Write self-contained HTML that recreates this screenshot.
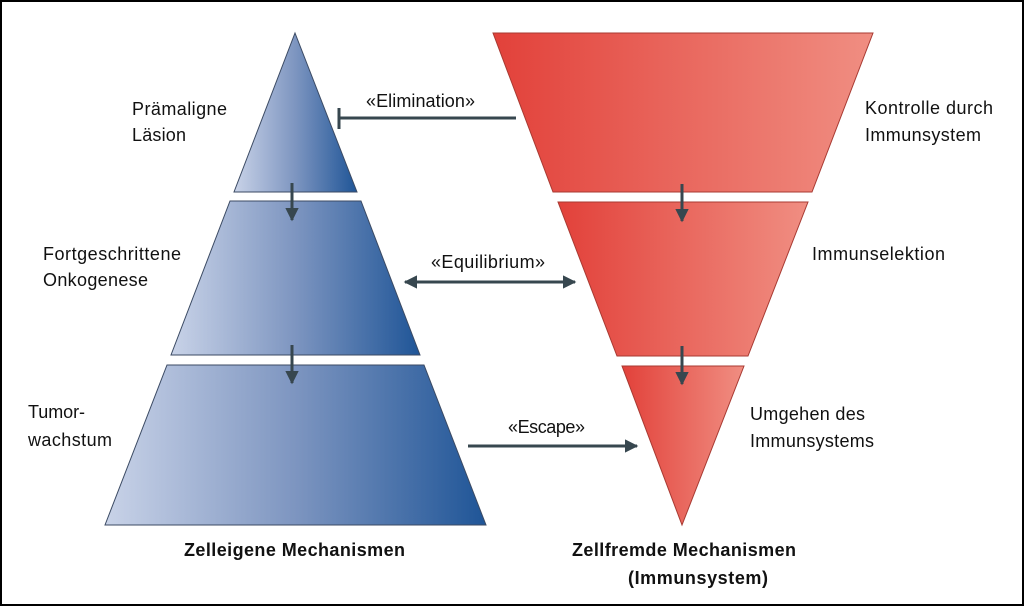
<!DOCTYPE html>
<html><head><meta charset="utf-8"><style>
html,body{margin:0;padding:0;background:#fff}
svg{display:block}
text{font-family:"Liberation Sans Narrow","Liberation Sans",sans-serif;fill:#111}
.r{font-size:18px}
.b{font-size:18px;font-weight:bold}
</style></head><body>
<svg width="1024" height="606" viewBox="0 0 1024 606" xmlns="http://www.w3.org/2000/svg">
<defs>
<linearGradient id="bl" x1="0" x2="1" y1="0" y2="0"><stop offset="0" stop-color="#c9d3e8"/><stop offset="0.5" stop-color="#7d95c0"/><stop offset="1" stop-color="#1f5597"/></linearGradient>
<linearGradient id="rd" x1="0" x2="1" y1="0" y2="0"><stop offset="0" stop-color="#e2413a"/><stop offset="1" stop-color="#f08e82"/></linearGradient>
<marker id="ah" viewBox="0 0 10 10" refX="9" refY="5" markerWidth="4.5" markerHeight="4.5" orient="auto-start-reverse"><path d="M0,0 L10,5 L0,10 z" fill="#37474f"/></marker>
</defs>
<rect x="1" y="1" width="1022" height="604" fill="#fff" stroke="#000" stroke-width="2"/>
<g stroke="#3b4a63" stroke-width="1">
<polygon points="295,33 357,192 234,192" fill="url(#bl)"/>
<polygon points="230,201 361,201 420,355 171,355" fill="url(#bl)"/>
<polygon points="167,365 424,365 486,525 105,525" fill="url(#bl)"/>
</g>
<g stroke="#a83a32" stroke-width="1">
<polygon points="493,33 873,33 812,192 553,192" fill="url(#rd)"/>
<polygon points="558,202 808,202 748,356 617,356" fill="url(#rd)"/>
<polygon points="622,366 744,366 682,525" fill="url(#rd)"/>
</g>
<g stroke="#37474f" stroke-width="3" fill="none">
<line x1="339" y1="118" x2="516" y2="118"/>
<line x1="339" y1="108" x2="339" y2="129"/>
<line x1="405" y1="282" x2="575" y2="282" marker-start="url(#ah)" marker-end="url(#ah)"/>
<line x1="468" y1="446" x2="637" y2="446" marker-end="url(#ah)"/>
<line x1="292" y1="183" x2="292" y2="220" marker-end="url(#ah)"/>
<line x1="292" y1="345" x2="292" y2="383" marker-end="url(#ah)"/>
<line x1="682" y1="184" x2="682" y2="221" marker-end="url(#ah)"/>
<line x1="682" y1="346" x2="682" y2="384" marker-end="url(#ah)"/>
</g>
<text class="r" x="132" y="115" textLength="95">Prämaligne</text>
<text class="r" x="132" y="141" textLength="54">Läsion</text>
<text class="r" x="43" y="260" textLength="138">Fortgeschrittene</text>
<text class="r" x="43" y="286" textLength="105">Onkogenese</text>
<text class="r" x="28" y="418" textLength="57">Tumor-</text>
<text class="r" x="28" y="446" textLength="84">wachstum</text>
<text class="r" x="865" y="114" textLength="128">Kontrolle durch</text>
<text class="r" x="865" y="141" textLength="116">Immunsystem</text>
<text class="r" x="812" y="260" textLength="133">Immunselektion</text>
<text class="r" x="750" y="420" textLength="115">Umgehen des</text>
<text class="r" x="750" y="447" textLength="124">Immunsystems</text>
<text class="r" x="366" y="107" textLength="109">«Elimination»</text>
<text class="r" x="431" y="268" textLength="114">«Equilibrium»</text>
<text class="r" x="508" y="433" textLength="77">«Escape»</text>
<text class="b" x="184" y="556" textLength="221">Zelleigene Mechanismen</text>
<text class="b" x="572" y="556" textLength="224">Zellfremde Mechanismen</text>
<text class="b" x="628" y="584" textLength="140">(Immunsystem)</text>
</svg>
</body></html>
